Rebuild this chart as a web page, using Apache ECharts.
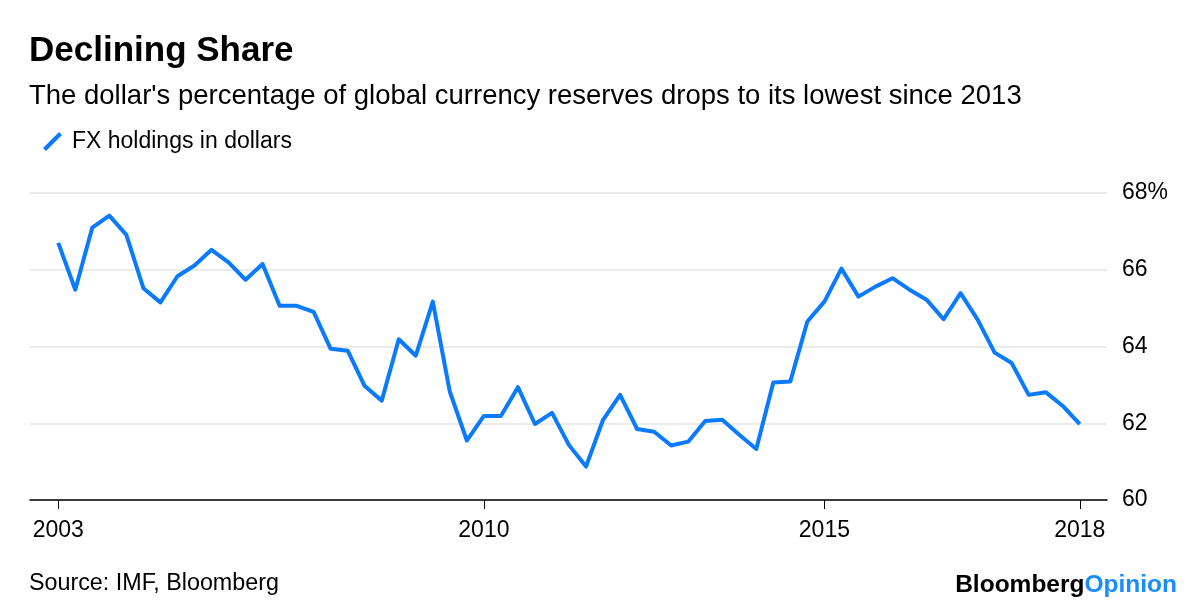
<!DOCTYPE html>
<html>
<head>
<meta charset="utf-8">
<script src="https://cdn.jsdelivr.net/npm/echarts@6/dist/echarts.min.js"></script>
<style>
html,body{margin:0;padding:0;background:#fff;}
#chart{width:1200px;height:612px;}
</style>
</head>
<body>
<div id="chart"></div>
<script>
// Quarterly observations (index 0 = first quarter shown)
const seriesName = 'FX holdings in dollars';
const dollarShare = [
  66.70, 65.48, 67.10, 67.41, 66.91, 65.52, 65.15, 65.83, 66.11, 66.52,
  66.19, 65.74, 66.15, 65.06, 65.06, 64.90, 63.94, 63.89, 62.97, 62.59,
  64.19, 63.76, 65.17, 62.82, 61.55, 62.19, 62.19, 62.94, 61.98, 62.27,
  61.43, 60.87, 62.09, 62.74, 61.85, 61.78, 61.42, 61.52, 62.06, 62.09,
  61.70, 61.33, 63.06, 63.09, 64.65, 65.17, 66.03, 65.30, 65.56, 65.78,
  65.48, 65.22, 64.71, 65.39, 64.70, 63.84, 63.57, 62.74, 62.81, 62.45,
  61.98
];
const xTickIndex = [0, 25, 45, 60];
const xTickLabels = ['2003', '2010', '2015', '2018'];

const FONT = "'Liberation Sans', Arial, sans-serif";
const BLUE = '#0a7bff';

const chart = echarts.init(document.getElementById('chart'), null, {renderer: 'canvas'});
const labelMap = {};
xTickIndex.forEach((v, i) => { labelMap[v] = xTickLabels[i]; });

chart.setOption({
  animation: false,
  backgroundColor: '#fff',
  textStyle: {fontFamily: FONT},
  title: [
    {text: 'Declining Share', left: 24, top: 29,
     textStyle: {fontFamily: FONT, fontSize: 35, fontWeight: 'bold', color: '#000'}},
    {text: "The dollar's percentage of global currency reserves drops to its lowest since 2013", left: 24, top: 77,
     textStyle: {fontFamily: FONT, fontSize: 27.5, fontWeight: 'normal', color: '#000'}}
  ],
  legend: {
    left: 38, top: 125,
    itemWidth: 19, itemHeight: 19, itemGap: 10,
    icon: 'path://M0,16 L16,0 L19,3 L3,19 Z',
    textStyle: {fontFamily: FONT, fontSize: 23, color: '#000', padding: [0,0,0,5]},
    data: [seriesName]
  },
  grid: {left: 30, right: 93, top: 193, bottom: 112},
  xAxis: {
    type: 'value',
    min: -1.66, max: 61.6,
    axisLine: {show: true, lineStyle: {color: '#000', width: 1.5}},
    axisTick: {show: true, customValues: xTickIndex, length: 9, lineStyle: {color: '#000', width: 1}},
    axisLabel: {show: true, customValues: xTickIndex, margin: 19,
      formatter: v => labelMap[Math.round(v)] || '',
      fontFamily: FONT, fontSize: 23, color: '#000'},
    splitLine: {show: false}
  },
  yAxis: {
    type: 'value', position: 'right',
    min: 60, max: 68, interval: 2,
    axisLine: {show: false},
    axisTick: {show: false},
    axisLabel: {margin: 15, fontFamily: FONT, fontSize: 23, color: '#000',
      formatter: v => v === 68 ? v + '%' : String(v)},
    splitLine: {show: true, lineStyle: {color: '#ebebeb', width: 2}}
  },
  series: [{
    name: seriesName,
    type: 'line',
    data: dollarShare.map((v, i) => [i, v]),
    showSymbol: false,
    symbol: 'none',
    lineStyle: {color: BLUE, width: 4, join: 'round'},
    itemStyle: {color: BLUE}
  }],
  graphic: [
    {type: 'text', left: 29, top: 572,
     style: {text: 'Source: IMF, Bloomberg', fontFamily: FONT, fontSize: 23.3, fill: '#000'}},
    {type: 'text', right: 23, top: 573,
     style: {text: '{a|Bloomberg}{b|Opinion}',
       rich: {a: {fontFamily: FONT, fontSize: 24.5, fontWeight: 'bold', fill: '#000', color: '#000'},
              b: {fontFamily: FONT, fontSize: 24.5, fontWeight: 'bold', fill: '#1a8cff', color: '#1a8cff'}}}}
  ]
});
</script>
</body>
</html>
